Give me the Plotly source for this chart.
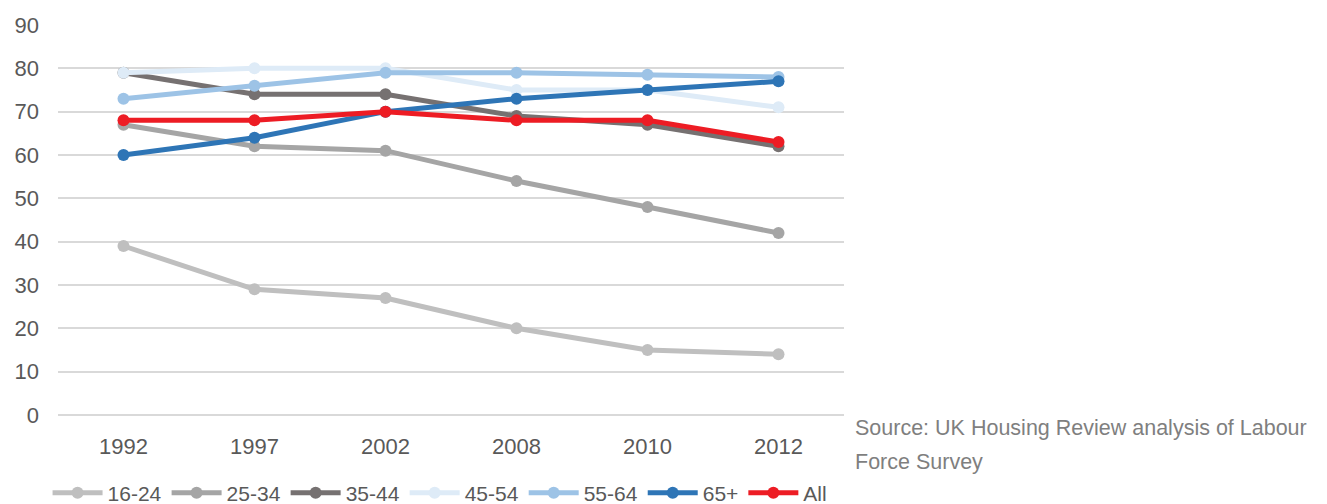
import plotly.graph_objects as go

years = ["1992", "1997", "2002", "2008", "2010", "2012"]
s_16_24 = [39, 29, 27, 20, 15, 14]
s_25_34 = [67, 62, 61, 54, 48, 42]
s_35_44 = [79, 74, 74, 69, 67, 62]
s_45_54 = [79, 80, 80, 75, 75, 71]
s_55_64 = [73, 76, 79, 79, 78.5, 78]
s_65p = [60, 64, 70, 73, 75, 77]
s_all = [68, 68, 70, 68, 68, 63]

series = [
    ("16-24", s_16_24, "#BFBFBF"),
    ("25-34", s_25_34, "#A5A5A5"),
    ("35-44", s_35_44, "#767171"),
    ("45-54", s_45_54, "#DEEBF7"),
    ("55-64", s_55_64, "#9DC3E6"),
    ("65+", s_65p, "#2E75B6"),
    ("All", s_all, "#ED1C24"),
]
source_lines = ["Source: UK Housing Review analysis of Labour", "Force Survey"]

fig = go.Figure()
for name, vals, col in series:
    fig.add_trace(go.Scatter(
        x=years, y=vals, name=name, mode="lines+markers",
        line=dict(color=col, width=5),
        marker=dict(color=col, size=12),
    ))

font_col = "#595959"
FS = 22
fig.update_layout(
    width=1319, height=496,
    margin=dict(l=50, r=483, t=17, b=89),
    paper_bgcolor="white", plot_bgcolor="white",
    font=dict(family="Liberation Sans", size=FS, color=font_col),
    showlegend=True,
    legend=dict(orientation="h", xref="container", yref="container",
                x=0.030, xanchor="left", y=0.022, yanchor="middle",
                font=dict(size=21, color=font_col), itemwidth=50, tracegroupgap=0,
                bgcolor="rgba(0,0,0,0)"),
    xaxis=dict(type="category", range=[-0.5, 5.5], showgrid=False, zeroline=False,
               showline=False, ticks="", automargin=False, ticklabelstandoff=16,
               tickfont=dict(size=FS, color=font_col)),
    yaxis=dict(range=[0, 90], dtick=10, showgrid=True, gridcolor="#D9D9D9", gridwidth=1.5,
               zeroline=True, zerolinecolor="#D9D9D9", zerolinewidth=1.5,
               showline=False, ticks="", automargin=False, ticklabelstandoff=18,
               tickfont=dict(size=FS, color=font_col)),
)
for txt, yp in zip(source_lines, [-0.0333, -0.1205]):
    fig.add_annotation(text=txt, xref="paper", yref="paper", x=1.012, y=yp,
                       xanchor="left", yanchor="middle", align="left", showarrow=False,
                       font=dict(size=21.5, color="#7F7F7F"))

fig.write_html("out.html")
